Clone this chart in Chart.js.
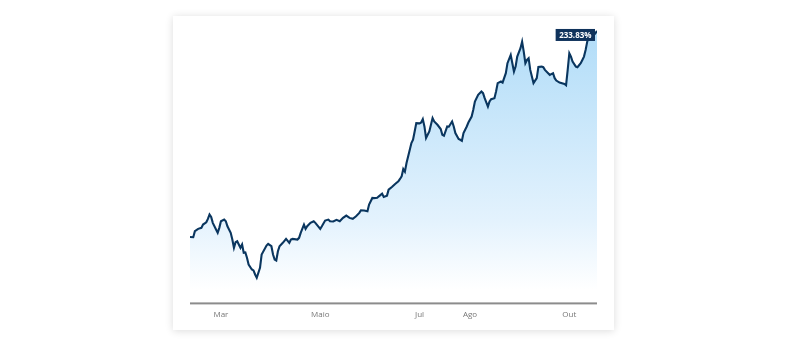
<!DOCTYPE html>
<html>
<head>
<meta charset="utf-8">
<script src="https://cdn.jsdelivr.net/npm/chart.js@4"></script>
<style>
  html, body { margin: 0; padding: 0; background: #fff; }
  .card {
    position: absolute; left: 173px; top: 16px; width: 441px; height: 314px;
    background: #fff; box-shadow: 0 1px 8px rgba(0, 0, 0, 0.14);
  }
  #perfChart { position: absolute; left: 0; top: 0; }
</style>
</head>
<body>
<div class="card"></div>
<canvas id="perfChart" width="788" height="347"></canvas>
<script>
// day offsets (from first session) and cumulative return in %
const days = [
  0, 2, 3, 5, 7, 8, 10, 11, 12, 13, 14, 16, 17, 18, 19, 21, 22, 23, 25, 26,
  27, 28, 29, 31, 32, 33, 34, 35, 36, 38, 39, 40, 41, 43, 44, 47, 48, 50, 51, 52,
  53, 54, 55, 57, 59, 61, 62, 63, 66, 67, 68, 70, 71, 72, 74, 76, 77, 79, 80, 81,
  83, 85, 86, 88, 90, 92, 94, 96, 98, 100, 102, 104, 105, 107, 109, 110, 112, 113, 115, 116,
  118, 119, 121, 122, 124, 126, 128, 129, 130, 131, 132, 133, 135, 136, 137, 138, 139, 141, 142, 143,
  144, 145, 147, 149, 150, 152, 154, 155, 156, 158, 159, 161, 162, 163, 165, 166, 167, 168, 170, 171,
  173, 174, 175, 177, 179, 180, 181, 183, 184, 185, 187, 188, 189, 191, 192, 194, 195, 197, 198, 199,
  200, 201, 203, 204, 205, 206, 207, 208, 209, 210, 211, 213, 214, 216, 217, 218, 220, 221, 223, 224,
  225, 227, 230, 231, 232, 233, 234, 235, 237, 238, 240, 241, 242, 243, 244, 245, 246, 247, 249, 250
];
const returns = [
  0, -0.23, 6.57, 9.28, 10.42, 14.15, 16.76, 20.61, 25.48, 22.87,
  16.08, 8.49, 4.76, 10.42, 17.89, 19.82, 17.89, 12.23, 4.76, -2.83,
  -12.23, -5.89, -4.76, -12.23, -8.49, -17.89, -17.5, -23.55, -31.14, -36.80,
  -37.93, -42.46, -46.20, -34.87, -19.82, -9.62, -7.70, -10.42, -19.82, -25.48,
  -26.61, -16.08, -10.42, -6.57, -2.04, -6.57, -2.83, -2.04, -2.83, -0.91,
  4.76, 14.15, 9.28, 12.23, 16.08, 17.89, 16.08, 11.55, 9.28, 12.23,
  18.68, 19.82, 17.89, 17.6, 19.48, 17.89, 21.74, 24.34, 21.74, 20.61,
  23.55, 27.40, 30.35, 30.1, 29.21, 36.80, 44.39, 44.2, 44.5, 46.20,
  49.26, 45.52, 46.99, 53.78, 56.84, 60.24, 63.18, 65.90, 68.84, 77.22,
  74.17, 84.02, 99.08, 106.66, 110.40, 119.80, 129.31, 129.0, 129.99, 133.84,
  125.46, 112.32, 119.80, 134.97, 131.12, 127.38, 122.51, 116.06, 114.93, 125.46,
  125.2, 131.12, 125.46, 117.99, 111.19, 110.40, 109.27, 117.99, 125.46, 129.99,
  136.78, 144.37, 153.77, 161.35, 165.09, 163.28, 157.62, 148.10, 153.77, 156.48,
  157.62, 165.09, 174.60, 176.41, 175.28, 185.92, 197.25, 206.64, 197.25, 187.74,
  193.40, 204.72, 214.23, 221.70, 210.38, 197.25, 200.98, 202.91, 189.66, 182.07,
  174.60, 180.26, 193.06, 193.40, 192.72, 189.66, 185.92, 184.00, 185.92, 180.26,
  177.54, 175.28, 173.81, 172.34, 189.66, 208.57, 204.72, 199.06, 193.40, 192.72,
  197.25, 200.98, 204.72, 212.31, 221.70, 227.37, 231.22, 227.37, 231.22, 233.83
];
const tickDays = [19, 80, 141, 172, 233];
const tickLabels = ['Mar', 'Maio', 'Jul', 'Ago', 'Out'];

const points = days.map((d, i) => ({ x: d, y: returns[i] }));

// flat grey baseline under the plot
const baseline = {
  id: 'baseline',
  afterDatasetsDraw(chart) {
    const { ctx, chartArea } = chart;
    ctx.save();
    ctx.fillStyle = '#8c8c8c';
    ctx.fillRect(chartArea.left, chartArea.bottom - 1, chartArea.right - chartArea.left, 2);
    ctx.restore();
  }
};

// last value badge, tucked under the end of the line
const lastValueTag = {
  id: 'lastValueTag',
  afterDatasetsDraw(chart) {
    const meta = chart.getDatasetMeta(0);
    const pt = meta.data[meta.data.length - 1];
    const ctx = chart.ctx;
    const text = returns[returns.length - 1].toFixed(2) + '%';
    ctx.save();
    ctx.font = 'bold 8px "Open Sans", sans-serif';
    const w = ctx.measureText(text).width + 7;
    const h = 12;
    const right = pt.x - 2;
    const top = pt.y - 2;
    ctx.fillStyle = '#10335c';
    ctx.fillRect(right - w, top, w, h);
    ctx.fillStyle = '#fff';
    ctx.textAlign = 'center';
    ctx.textBaseline = 'middle';
    ctx.fillText(text, right - w / 2, top + h / 2 + 0.5);
    ctx.restore();
  }
};

const ctx = document.getElementById('perfChart').getContext('2d');
const perfChart = new Chart(ctx, {
  type: 'line',
  data: {
    datasets: [{
      data: points,
      borderColor: '#0a365f',
      borderWidth: 2.1,
      pointRadius: 0,
      tension: 0,
      fill: 'start',
      backgroundColor: (c) => {
        const area = c.chart.chartArea;
        if (!area) return '#cfeafb';
        const g = c.chart.ctx.createLinearGradient(0, area.top, 0, area.bottom);
        g.addColorStop(0, '#b0dcf8');
        g.addColorStop(0.7, '#e3f2fd');
        g.addColorStop(0.95, '#ffffff');
        return g;
      }
    }]
  },
  options: {
    responsive: false,
    animation: false,
    layout: {
      padding: { left: 190, right: 191, top: 25, bottom: 20 }
    },
    plugins: {
      legend: { display: false },
      tooltip: { enabled: false }
    },
    scales: {
      x: {
        type: 'linear',
        min: 0,
        max: 250,
        afterBuildTicks: (scale) => {
          scale.ticks = tickDays.map(v => ({ value: v }));
        },
        grid: { display: false, drawTicks: false },
        border: { display: false },
        ticks: {
          autoSkip: false,
          maxRotation: 0,
          padding: 7,
          color: '#777',
          font: { family: '"Open Sans", sans-serif', size: 8 },
          callback: (v) => tickLabels[tickDays.indexOf(v)]
        }
      },
      y: {
        display: false,
        min: -75.3,
        max: 240.6
      }
    }
  },
  plugins: [baseline, lastValueTag]
});
</script>
</body>
</html>
